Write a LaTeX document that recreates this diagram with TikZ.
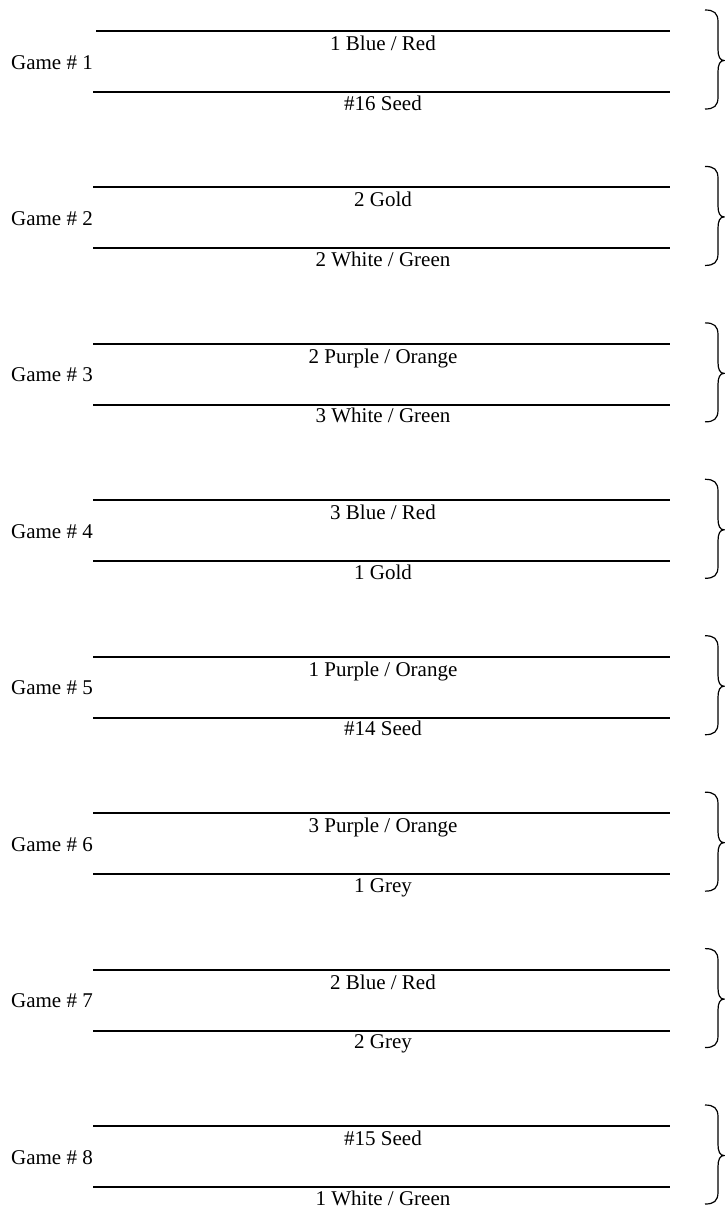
\documentclass[tikz,border=0pt]{standalone}
\usepackage{fontspec}
\setmainfont{Liberation Serif}
\begin{document}
\begin{tikzpicture}[x=1pt,y=-1pt,
  slot/.style={line width=2pt},
  team/.style={anchor=base,inner sep=0pt,font=\fontsize{21}{25}\selectfont},
  gamelabel/.style={anchor=base east,inner sep=0pt,font=\fontsize{21}{25}\selectfont},
  bracket/.style={line width=1.2pt}]
\useasboundingbox (0,0) rectangle (725,1208);
\foreach \i/\up/\dn/\xs in {1/{1 Blue / Red}/{\#16 Seed}/96,
                          2/{2 Gold}/{2 White / Green}/93,
                          3/{2 Purple / Orange}/{3 White / Green}/93,
                          4/{3 Blue / Red}/{1 Gold}/93,
                          5/{1 Purple / Orange}/{\#14 Seed}/93,
                          6/{3 Purple / Orange}/{1 Grey}/93,
                          7/{2 Blue / Red}/{2 Grey}/93,
                          8/{\#15 Seed}/{1 White / Green}/93}{
  \pgfmathsetmacro{\T}{31+156.43*(\i-1)}
  \coordinate (t\i a) at (\xs,\T);
  \coordinate (t\i b) at (670,\T);
  \coordinate (b\i a) at (93,\T+61);
  \coordinate (b\i b) at (670,\T+61);
  \draw[slot] (t\i a) -- (t\i b);
  \draw[slot] (b\i a) -- (b\i b);
  \node[team] (up\i) at (383,\T+19.5) {\up};
  \node[team] (dn\i) at (383,\T+79) {\dn};
  \node[gamelabel] (g\i) at (93,\T+38) {Game \# \i};
  \pgfmathsetmacro{\bt}{\T-21}
  \pgfmathsetmacro{\bb}{\T+78}
  \pgfmathsetmacro{\bm}{\T+29.5}
  \draw[bracket] (705,\bt) .. controls (714,\bt) and (718,\bt+3) .. (718,\bt+12)
     -- (718,\bm-11) .. controls (718,\bm-4) and (720,\bm) .. (724,\bm)
     .. controls (720,\bm) and (718,\bm+4) .. (718,\bm+11)
     -- (718,\bb-12) .. controls (718,\bb-3) and (714,\bb) .. (705,\bb);
}
\end{tikzpicture}
\end{document}
